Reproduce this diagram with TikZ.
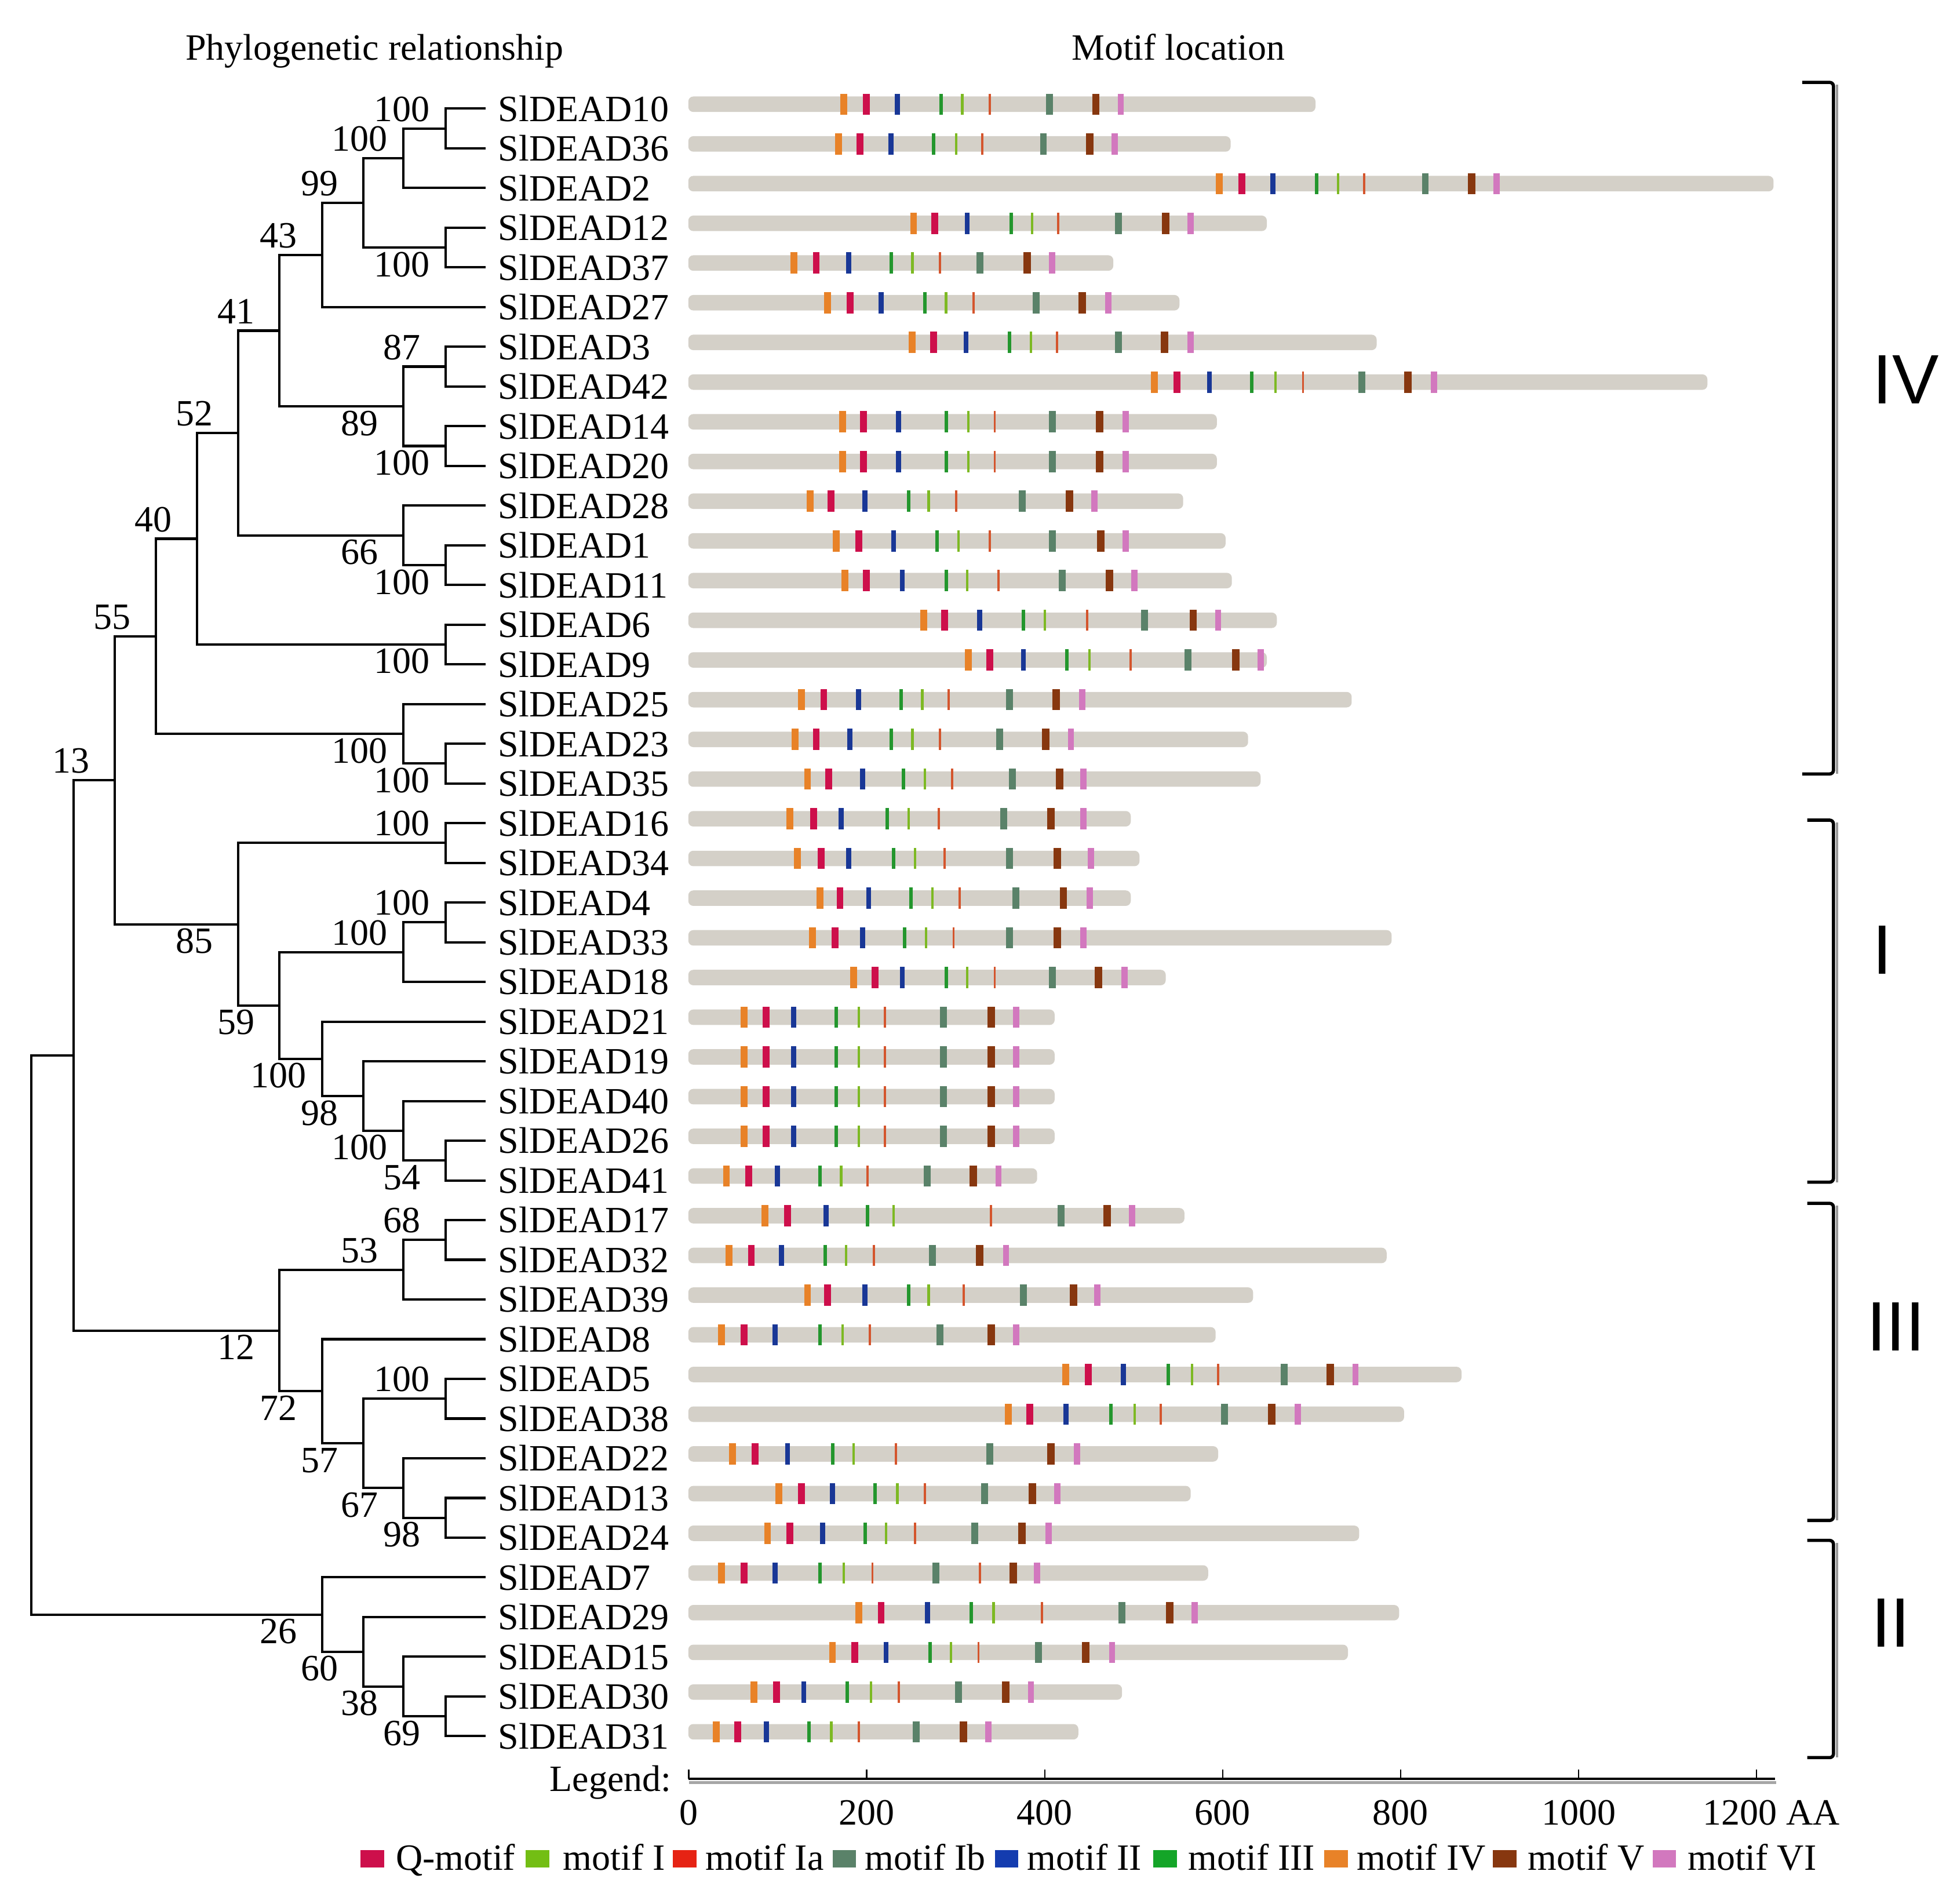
\documentclass[tikz,border=0pt]{standalone}
\usepackage{fontspec}
\setmainfont{Liberation Serif}
\newfontfamily\romfont{Liberation Sans}
\usetikzlibrary{calc}
\definecolor{barc}{RGB}{212,208,200}
\definecolor{cIV}{RGB}{232,130,40}
\definecolor{cQ}{RGB}{205,15,75}
\definecolor{cII}{RGB}{25,55,150}
\definecolor{cIII}{RGB}{35,150,45}
\definecolor{cI}{RGB}{125,185,35}
\definecolor{cIa}{RGB}{212,85,45}
\definecolor{cIb}{RGB}{90,130,105}
\definecolor{cV}{RGB}{135,55,15}
\definecolor{cVI}{RGB}{210,120,190}
\definecolor{lgI}{RGB}{115,190,20}
\definecolor{lgIa}{RGB}{230,35,20}
\definecolor{lgII}{RGB}{20,60,175}
\definecolor{lgIII}{RGB}{20,165,40}
\tikzset{
  tree/.style={line width=1.9pt, black},
  gene/.style={anchor=west, inner xsep=10pt, inner ysep=0pt, font=\fontsize{29.7}{30}\selectfont},
  bs/.style={inner sep=0pt, font=\fontsize{29.7}{30}\selectfont},
  txt/.style={inner sep=0pt, font=\fontsize{29.7}{30}\selectfont},
  rom/.style={inner sep=0pt, font=\romfont\fontsize{56}{56}\selectfont},
  mk1/.style={draw=cIV, line width=5.5pt},
  mk2/.style={draw=cQ, line width=5.5pt},
  mk3/.style={draw=cII, line width=4pt},
  mk4/.style={draw=cIII, line width=2.8pt},
  mk5/.style={draw=cI, line width=2pt},
  mk6/.style={draw=cIa, line width=1.8pt},
  mk7/.style={draw=cIb, line width=5.5pt},
  mk8/.style={draw=cV, line width=6pt},
  mk9/.style={draw=cVI, line width=5pt},
  brkline/.style={line width=2.6pt, rounded corners=3pt},
  shd/.style={draw=black!40, line width=2pt},
}
\newcommand\motrow[3]{%
  \pgfmathsetmacro\by{83.5+(#1-1)*31.8}%
  \fill[barc, rounded corners=4pt] (551.5,\by-6.2) rectangle (#2,\by+6.2);
  \foreach \p [count=\k] in {#3} {\draw[mk\k] (\p,\by-8.5) -- (\p,\by+8.5);}%
}
\newcommand\bsup[2]{\node[bs] (bs#1) at ($(#1)+(-35,-15.5)$) {#2};}
\newcommand\bsdn[2]{\node[bs] (bs#1) at ($(#1)+(-35,13.5)$) {#2};}
\newcommand\clbracket[3]{%
  \draw[shd] (1471.8,#1+2) -- (1471.8,#2);
  \draw[brkline] (#3,#1) -- (1469,#1) -- (1469,#2) -- (#3,#2);}
\begin{document}
\begin{tikzpicture}[x=1pt, y=-1pt]
\fill[white] (0,0) rectangle (1568,1525);
\useasboundingbox (0,0) rectangle (1568,1525);

% headers
\node[txt, anchor=base] (hdr1) at (300,48) {Phylogenetic relationship};
\node[txt, anchor=base] (hdr2) at (944,48) {Motif location};

% gene labels
\foreach \g [count=\i] in {10,36,2,12,37,27,3,42,14,20,28,1,11,6,9,25,23,35,16,34,4,33,18,21,19,40,26,41,17,32,39,8,5,38,22,13,24,7,29,15,30,31}
  \node[gene] (n\g) at (389,{87+(\i-1)*31.8}) {SlDEAD\g};

% internal tree nodes
\coordinate (ta) at (357,102.9);
\coordinate (tb) at (323,126.75);
\coordinate (tc) at (357,198.3);
\coordinate (td) at (291,162.53);
\coordinate (te) at (258,204.26);
\coordinate (tf) at (357,293.7);
\coordinate (tg) at (357,357.3);
\coordinate (th) at (323,325.5);
\coordinate (ti) at (224,264.88);
\coordinate (tj) at (357,452.7);
\coordinate (tk) at (323,428.85);
\coordinate (tl) at (191,346.87);
\coordinate (tm) at (357,516.3);
\coordinate (tn) at (158,431.58);
\coordinate (to) at (357,611.7);
\coordinate (tp) at (323,587.85);
\coordinate (tq) at (125,509.72);
\coordinate (tr) at (357,675.3);
\coordinate (ts) at (357,738.9);
\coordinate (tt) at (323,762.75);
\coordinate (tu) at (357,929.7);
\coordinate (tv) at (323,905.85);
\coordinate (tw) at (291,878.03);
\coordinate (tx) at (258,848.21);
\coordinate (ty) at (224,805.48);
\coordinate (tz) at (191,740.39);
\coordinate (L2) at (92,625.06);
\coordinate (A1) at (357,993.3);
\coordinate (A2) at (323,1017.15);
\coordinate (A3) at (357,1120.5);
\coordinate (A4) at (357,1215.9);
\coordinate (A5) at (323,1192.05);
\coordinate (A6) at (291,1156.28);
\coordinate (A7) at (258,1114.54);
\coordinate (A8) at (224,1065.85);
\coordinate (L1) at (59,845.46);
\coordinate (B1) at (357,1374.9);
\coordinate (B2) at (323,1351.05);
\coordinate (B3) at (291,1323.23);
\coordinate (B4) at (258,1293.42);
\coordinate (root) at (25,1069.44);

% tree
\draw[tree] (n10.west) -| (ta) |- (n36.west);
\draw[tree] (ta) -| (tb) |- (n2.west);
\draw[tree] (n12.west) -| (tc) |- (n37.west);
\draw[tree] (tb) -| (td) |- (tc);
\draw[tree] (td) -| (te) |- (n27.west);
\draw[tree] (n3.west) -| (tf) |- (n42.west);
\draw[tree] (n14.west) -| (tg) |- (n20.west);
\draw[tree] (tf) -| (th) |- (tg);
\draw[tree] (te) -| (ti) |- (th);
\draw[tree] (n1.west) -| (tj) |- (n11.west);
\draw[tree] (n28.west) -| (tk) |- (tj);
\draw[tree] (ti) -| (tl) |- (tk);
\draw[tree] (n6.west) -| (tm) |- (n9.west);
\draw[tree] (tl) -| (tn) |- (tm);
\draw[tree] (n23.west) -| (to) |- (n35.west);
\draw[tree] (n25.west) -| (tp) |- (to);
\draw[tree] (tn) -| (tq) |- (tp);
\draw[tree] (n16.west) -| (tr) |- (n34.west);
\draw[tree] (n4.west) -| (ts) |- (n33.west);
\draw[tree] (ts) -| (tt) |- (n18.west);
\draw[tree] (n26.west) -| (tu) |- (n41.west);
\draw[tree] (n40.west) -| (tv) |- (tu);
\draw[tree] (n19.west) -| (tw) |- (tv);
\draw[tree] (n21.west) -| (tx) |- (tw);
\draw[tree] (tt) -| (ty) |- (tx);
\draw[tree] (tr) -| (tz) |- (ty);
\draw[tree] (tq) -| (L2) |- (tz);
\draw[tree] (n17.west) -| (A1) |- (n32.west);
\draw[tree] (A1) -| (A2) |- (n39.west);
\draw[tree] (n5.west) -| (A3) |- (n38.west);
\draw[tree] (n13.west) -| (A4) |- (n24.west);
\draw[tree] (n22.west) -| (A5) |- (A4);
\draw[tree] (A3) -| (A6) |- (A5);
\draw[tree] (n8.west) -| (A7) |- (A6);
\draw[tree] (A2) -| (A8) |- (A7);
\draw[tree] (L2) -| (L1) |- (A8);
\draw[tree] (n30.west) -| (B1) |- (n31.west);
\draw[tree] (n15.west) -| (B2) |- (B1);
\draw[tree] (n29.west) -| (B3) |- (B2);
\draw[tree] (n7.west) -| (B4) |- (B3);
\draw[tree] (L1) -| (root) |- (B4);

% bootstrap values
\bsup{ta}{100} \bsup{tb}{100} \bsup{td}{99} \bsup{te}{43} \bsdn{tc}{100}
\bsup{ti}{41} \bsup{tf}{87} \bsup{tl}{52} \bsdn{th}{89} \bsdn{tg}{100}
\bsup{tn}{40} \bsdn{tk}{66} \bsdn{tj}{100} \bsup{tq}{55} \bsdn{tm}{100}
\bsdn{tp}{100} \bsup{L2}{13} \bsdn{to}{100}
\bsup{tr}{100} \bsup{ts}{100} \bsdn{tz}{85} \bsup{tt}{100} \bsdn{ty}{59}
\bsdn{tx}{100} \bsdn{tw}{98} \bsdn{tv}{100} \bsdn{tu}{54}
\bsup{A1}{68} \bsup{A2}{53} \bsdn{A8}{12} \bsup{A3}{100} \bsdn{A7}{72}
\bsdn{A6}{57} \bsdn{A5}{67} \bsdn{A4}{98}
\bsdn{B4}{26} \bsdn{B3}{60} \bsdn{B2}{38} \bsdn{B1}{69}

% motif bars
\motrow{1}{1054}{676,694,719,754,771,793,841,878,898}
\motrow{2}{986}{672,689,714,748,766,787,836,873,893}
\motrow{3}{1421}{977,995,1020,1055,1072,1093,1142,1179,1199}
\motrow{4}{1015}{732,749,775,810,827,848,896,934,954}
\motrow{5}{892}{636,654,680,714,731,753,785,823,843}
\motrow{6}{945}{663,681,706,741,758,780,830,867,888}
\motrow{7}{1103}{731,748,774,809,826,847,896,933,954}
\motrow{8}{1368}{925,943,969,1003,1022,1044,1091,1128,1149}
\motrow{9}{975}{675,692,720,758,776,797,843,881,902}
\motrow{10}{975}{675,692,720,758,776,797,843,881,902}
\motrow{11}{948}{649,666,693,728,744,766,819,857,877}
\motrow{12}{982}{670,688,716,751,768,793,843,882,902}
\motrow{13}{987}{677,694,723,758,775,800,851,889,909}
\motrow{14}{1023}{740,757,785,820,837,871,917,956,976}
\motrow{15}{1015}{776,793,820,855,873,906,952,990,1010}
\motrow{16}{1083}{642,660,688,722,739,760,809,846,867}
\motrow{17}{1000}{637,654,681,714,731,753,801,838,858}
\motrow{18}{1010}{647,664,691,724,741,763,811,849,868}
\motrow{19}{906}{633,652,674,711,728,752,804,842,868}
\motrow{20}{913}{639,658,680,716,733,757,809,847,874}
\motrow{21}{906}{657,673,696,730,747,769,814,852,873}
\motrow{22}{1115}{651,669,691,725,742,764,809,847,868}
\motrow{23}{934}{684,701,723,758,775,797,843,880,901}
\motrow{24}{845}{596,614,636,670,688,709,756,794,814}
\motrow{25}{845}{596,614,636,670,688,709,756,794,814}
\motrow{26}{845}{596,614,636,670,688,709,756,794,814}
\motrow{27}{845}{596,614,636,670,688,709,756,794,814}
\motrow{28}{831}{582,600,623,657,674,695,743,780,800}
\motrow{29}{949}{613,631,662,695,716,794,850,887,907}
\motrow{30}{1111}{584,602,626,661,678,700,747,785,806}
\motrow{31}{1004}{647,663,693,728,744,772,820,860,879}
\motrow{32}{974}{578,596,621,657,675,697,753,794,814}
\motrow{33}{1171}{854,872,900,936,955,976,1029,1066,1086}
\motrow{34}{1125}{808,825,854,890,909,930,981,1019,1040}
\motrow{35}{976}{587,605,631,667,684,718,793,842,863}
\motrow{36}{954}{624,642,667,701,719,741,789,827,847}
\motrow{37}{1089}{615,633,659,693,710,733,781,819,840}
\motrow{38}{968}{578,596,621,657,676,699,750,812,831}
\draw[mk6] (785,1251.6) -- (785,1268.6);
\motrow{39}{1121}{688,706,743,778,796,835,899,937,957}
\motrow{40}{1080}{667,685,710,745,762,784,832,870,891}
\motrow{41}{899}{604,622,644,679,698,720,768,806,826}
\motrow{42}{864}{574,591,614,648,666,688,734,772,792}

% group brackets
\clbracket{66}{620}{1444}
\clbracket{657}{947}{1448}
\clbracket{964}{1218}{1448}
\clbracket{1234}{1408}{1448}
\node[rom] (gIV) at (1527,304) {IV};
\node[rom] (gI) at (1508,761) {I};
\node[rom] (gIII) at (1519,1063) {III};
\node[rom] (gII) at (1515,1300) {II};

% scale axis
\node[txt, anchor=base east] (leg) at (538,1435) {Legend:};
\draw[black!35, line width=2.4pt] (552,1428) -- (1423,1428);
\draw[line width=2.2pt] (551.5,1425) -- (1422,1425);
\foreach \k in {0,...,6}
  \draw[line width=1pt] ({551.8+142.6*\k},1425) -- ({551.8+142.6*\k},1417.5);
\foreach \v [count=\k from 0] in {0,200,400,600,800,1000}
  \node[txt, anchor=base] (tick\k) at ({551.8+142.6*\k},1462) {\v};
\node[txt, anchor=base west] (tick6) at (1364,1462) {1200 AA};

% legend
\fill[cQ] (289,1482) rectangle (308,1496);
\node[txt, anchor=base west] (lQ) at (317,1498) {Q-motif};
\fill[lgI] (421,1482) rectangle (440,1496);
\node[txt, anchor=base west] (lI) at (451,1498) {motif I};
\fill[lgIa] (539,1482) rectangle (558,1496);
\node[txt, anchor=base west] (lIa) at (565,1498) {motif Ia};
\fill[cIb] (667,1482) rectangle (686,1496);
\node[txt, anchor=base west] (lIb) at (693,1498) {motif Ib};
\fill[lgII] (797,1482) rectangle (816,1496);
\node[txt, anchor=base west] (lII) at (823,1498) {motif II};
\fill[lgIII] (924,1482) rectangle (943,1496);
\node[txt, anchor=base west] (lIII) at (952,1498) {motif III};
\fill[cIV] (1061,1482) rectangle (1080,1496);
\node[txt, anchor=base west] (lIV) at (1087,1498) {motif IV};
\fill[cV] (1196,1482) rectangle (1215,1496);
\node[txt, anchor=base west] (lV) at (1224,1498) {motif V};
\fill[cVI] (1324,1482) rectangle (1343,1496);
\node[txt, anchor=base west] (lVI) at (1352,1498) {motif VI};
\end{tikzpicture}
\end{document}
